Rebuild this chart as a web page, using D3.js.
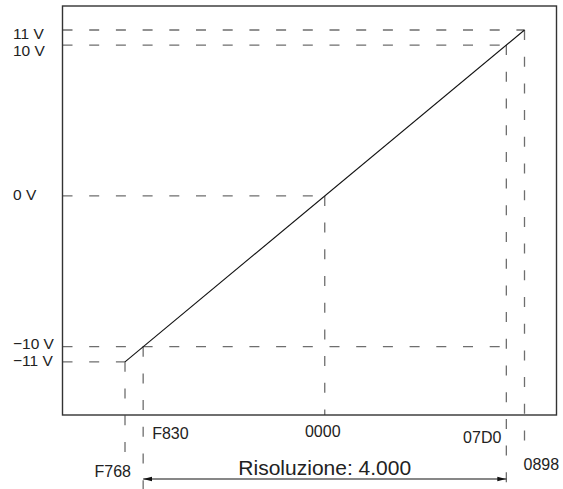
<!DOCTYPE html>
<html>
<head>
<meta charset="utf-8">
<script src="https://cdn.jsdelivr.net/npm/d3@7"></script>
<style>
  body { margin: 0; background: #fff; }
  svg { display: block; }
  text { font-family: "Liberation Sans", Arial, sans-serif; fill: #222; }
</style>
</head>
<body>
<div id="chart"></div>
<script>
// data
const codes = ["F768", "F830", "0000", "07D0", "0898"]
const codeValues = [-2200, -2000, 0, 2000, 2200]
const volts = [-11, -10, 0, 10, 11]
const voltLabels = ["\u221211 V", "\u221210 V", "0 V", "10 V", "11 V"]
// how far right each horizontal guide runs (in code units)
const guideEnds = [-2200, 2000, 0, 2000, 2200]
const resolutionText = "Risoluzione: 4.000"

const W = 563, H = 489
const frame = {left: 62.5, top: 6, right: 556.5, bottom: 415}

const x = d3.scaleLinear().domain([-2200, 2200]).range([125, 524.5])
const y = d3.scaleLinear().domain([-11, 11]).range([361.8, 30])

const svg = d3.select("#chart").append("svg")
    .attr("width", W)
    .attr("height", H)

const defs = svg.append("defs")
defs.append("marker")
    .attr("id", "arr")
    .attr("viewBox", "0 -3 9 6")
    .attr("refX", 9)
    .attr("refY", 0)
    .attr("markerWidth", 9)
    .attr("markerHeight", 6)
    .attr("markerUnits", "userSpaceOnUse")
    .attr("orient", "auto-start-reverse")
    .append("path")
    .attr("d", "M0,-2.2L9,0L0,2.2Z")
    .attr("fill", "#111")

const pts = codes.map((c, i) => ({code: c, v: codeValues[i], volt: volts[i], label: voltLabels[i], end: guideEnds[i]}))

// bottom ends of the vertical guides + label placement (layout, per code)
const vLayout = {
    "F768": {bottom: 455, anchor: "end", dx: 6, base: 477},
    "F830": {bottom: 489, anchor: "start", dx: 9, base: 439},
    "0000": {bottom: frame.bottom, anchor: "middle", dx: -2, base: 437},
    "07D0": {bottom: 484, anchor: "end", dx: -5, base: 443},
    "0898": {bottom: 441, anchor: "start", dx: -1, base: 470}
}
// small vertical nudges of the volt labels so the close ones don't collide
const voltNudge = {"-11": -1.8, "-10": -3.7, "0": -1, "10": 5.4, "11": 3.5}

const dash = "10,16.7"
const guides = svg.append("g")
    .attr("stroke", "#6e6e6e")
    .attr("stroke-width", 1.3)
    .attr("stroke-dasharray", dash)
    .attr("fill", "none")

// horizontal guides from the axis
guides.selectAll("line.h")
    .data(pts)
    .enter().append("line")
    .attr("class", "h")
    .attr("x1", frame.left)
    .attr("x2", d => x(d.end))
    .attr("y1", d => y(d.volt))
    .attr("y2", d => y(d.volt))

// vertical guides down from the points
guides.selectAll("line.v")
    .data(pts)
    .enter().append("line")
    .attr("class", "v")
    .attr("x1", d => x(d.v))
    .attr("x2", d => x(d.v))
    .attr("y1", d => y(d.volt))
    .attr("y2", d => vLayout[d.code].bottom)

// frame
svg.append("rect")
    .attr("x", frame.left)
    .attr("y", frame.top)
    .attr("width", frame.right - frame.left)
    .attr("height", frame.bottom - frame.top)
    .attr("fill", "none")
    .attr("stroke", "#333")
    .attr("stroke-width", 1.4)

// transfer line
const first = pts[0], last = pts[pts.length - 1]
svg.append("path")
    .datum([first, last])
    .attr("d", d3.line().x(d => x(d.v)).y(d => y(d.volt)))
    .attr("stroke", "#111")
    .attr("stroke-width", 1.1)
    .attr("fill", "none")

// voltage labels
svg.selectAll("text.volt")
    .data(pts)
    .enter().append("text")
    .attr("class", "volt")
    .attr("x", 13)
    .attr("y", d => y(d.volt) + voltNudge[d.volt])
    .attr("dy", "0.36em")
    .attr("font-size", 15.5)
    .text(d => d.label)

// code labels
svg.selectAll("text.code")
    .data(pts)
    .enter().append("text")
    .attr("class", "code")
    .attr("x", d => x(d.v) + vLayout[d.code].dx)
    .attr("y", d => vLayout[d.code].base)
    .attr("text-anchor", d => vLayout[d.code].anchor)
    .attr("font-size", 16)
    .text(d => d.code)

// resolution arrow between F830 and 07D0
const a = pts[1], b = pts[3]
const arrowY = 479
svg.append("line")
    .attr("x1", x(a.v))
    .attr("x2", x(b.v))
    .attr("y1", arrowY)
    .attr("y2", arrowY)
    .attr("stroke", "#111")
    .attr("stroke-width", 1.1)
    .attr("marker-start", "url(#arr)")
    .attr("marker-end", "url(#arr)")

svg.append("text")
    .attr("x", (x(a.v) + x(b.v)) / 2)
    .attr("y", 475)
    .attr("text-anchor", "middle")
    .attr("font-size", 21)
    .text(resolutionText)
</script>
</body>
</html>
